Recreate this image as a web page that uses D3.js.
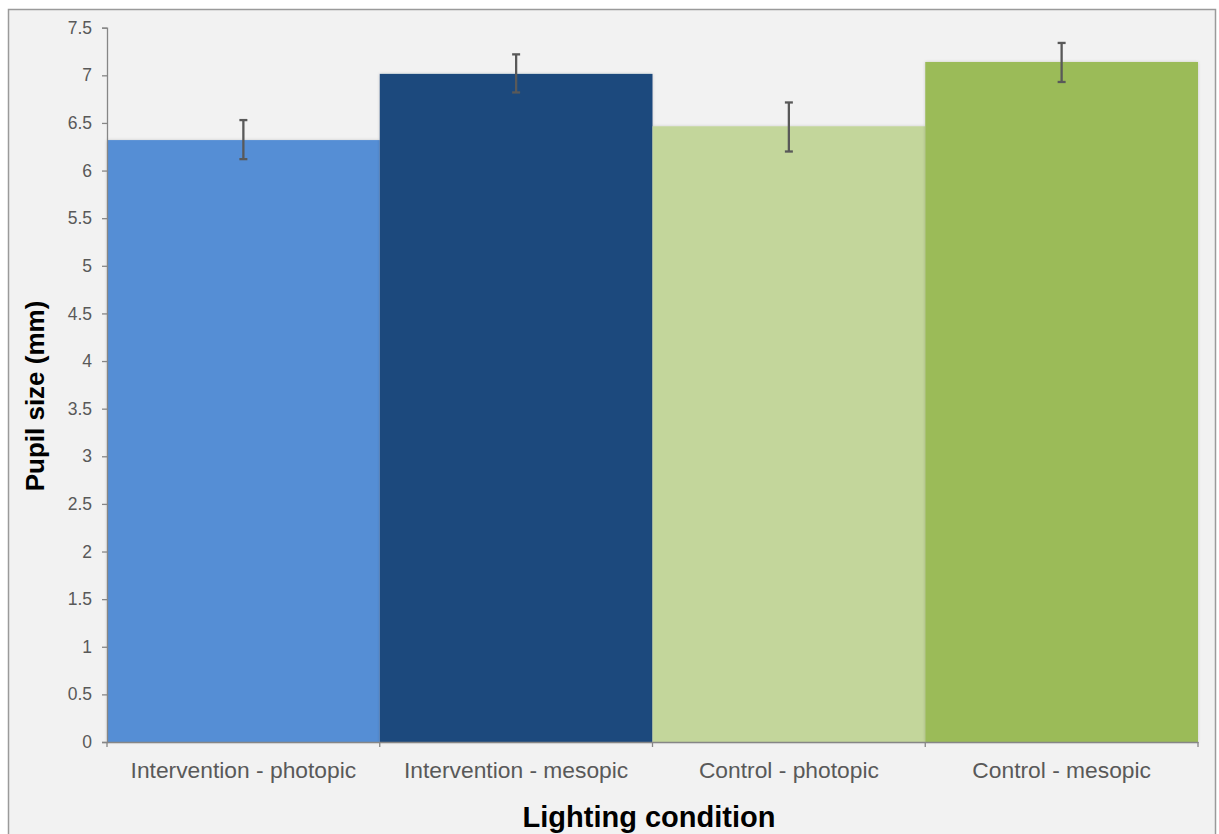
<!DOCTYPE html>
<html>
<head>
<meta charset="utf-8">
<script src="https://cdn.jsdelivr.net/npm/d3@7"></script>
<style>
  html, body { margin: 0; padding: 0; background: #ffffff; }
  svg { display: block; }
</style>
</head>
<body>
<svg id="chart" width="1219" height="834"></svg>
<script>
const categories = ["Intervention - photopic", "Intervention - mesopic", "Control - photopic", "Control - mesopic"];
const values = [6.32, 7.015, 6.465, 7.14];
const errUpper = [6.53, 7.22, 6.715, 7.34];
const errLower = [6.12, 6.82, 6.20, 6.93];
const colors = ["#558ed5", "#1f497d", "#c3d69b", "#9bbb59"];
const yTicks = [0, 0.5, 1, 1.5, 2, 2.5, 3, 3.5, 4, 4.5, 5, 5.5, 6, 6.5, 7, 7.5];
const xTitle = "Lighting condition";
const yTitle = "Pupil size (mm)";

const svg = d3.select("#chart");
const W = 1219, H = 834;
const plot = { left: 107, right: 1198, top: 27.7, bottom: 742 };

// background + border
svg.append("rect").attr("x", 0).attr("y", 0).attr("width", W).attr("height", H).attr("fill", "#ffffff");
svg.append("rect").attr("x", 8.5).attr("y", 9.5).attr("width", 1207).attr("height", 840)
  .attr("fill", "#f2f2f2").attr("stroke", "#9a9a9a").attr("stroke-width", 1.5);

const defs = svg.append("defs");
const f = defs.append("filter").attr("id", "shadow").attr("x", "-5%").attr("y", "-5%").attr("width", "110%").attr("height", "110%");
f.append("feDropShadow").attr("dx", 0).attr("dy", 0).attr("stdDeviation", 1.5)
  .attr("flood-color", "#000").attr("flood-opacity", 0.18);

const x = d3.scaleBand().domain(categories).range([plot.left, plot.right]).padding(0);
const y = d3.scaleLinear().domain([0, 7.5]).range([plot.bottom, plot.top]);

const data = categories.map((c, i) => ({ c, v: values[i], hi: errUpper[i], lo: errLower[i], col: colors[i] }));

// bars
svg.append("g").selectAll("rect").data(data).join("rect")
  .attr("x", d => x(d.c))
  .attr("y", d => y(d.v))
  .attr("width", x.bandwidth())
  .attr("height", d => y(0) - y(d.v))
  .attr("fill", d => d.col)
  .attr("filter", "url(#shadow)");

// error bars
const eg = svg.append("g").attr("stroke", "#595959").attr("stroke-width", 2.3).attr("fill", "none");
data.forEach(d => {
  const cx = x(d.c) + x.bandwidth() / 2;
  eg.append("line").attr("x1", cx).attr("x2", cx).attr("y1", y(d.hi)).attr("y2", y(d.lo));
  eg.append("line").attr("x1", cx - 4).attr("x2", cx + 4).attr("y1", y(d.hi)).attr("y2", y(d.hi));
  eg.append("line").attr("x1", cx - 4).attr("x2", cx + 4).attr("y1", y(d.lo)).attr("y2", y(d.lo));
});

// y axis
const yAxis = d3.axisLeft(y).tickValues(yTicks).tickSize(5).tickPadding(10)
  .tickFormat(d => String(d));
const gy = svg.append("g").attr("transform", `translate(${plot.left},0)`).call(yAxis);
gy.select(".domain").attr("stroke", "#868686").attr("stroke-width", 1.3);
gy.selectAll(".tick line").attr("stroke", "#868686").attr("stroke-width", 1.3);
gy.selectAll(".tick text").attr("fill", "#595959")
  .style("font-family", "'Liberation Sans', Arial, sans-serif").style("font-size", "17.5px");

// x axis
const xAxis = d3.axisBottom(x).tickSize(0).tickPadding(20);
const gx = svg.append("g").attr("transform", `translate(0,${plot.bottom})`).call(xAxis);
gx.select(".domain").attr("stroke", "#868686").attr("stroke-width", 1.5);
gx.selectAll(".tick text").attr("fill", "#595959")
  .style("font-family", "'Liberation Sans', Arial, sans-serif").style("font-size", "22.8px");
// category separator ticks
const boundaries = categories.map(c => x(c)).concat([plot.right]);
gx.append("g").selectAll("line").data(boundaries).join("line")
  .attr("x1", d => d).attr("x2", d => d).attr("y1", 0).attr("y2", 5)
  .attr("stroke", "#868686").attr("stroke-width", 1.3);

// titles
svg.append("text").attr("x", 649).attr("y", 826.5).attr("text-anchor", "middle")
  .style("font-family", "'Liberation Sans', Arial, sans-serif").style("font-weight", "bold")
  .style("font-size", "29px").attr("fill", "#000").text(xTitle);
svg.append("text").attr("transform", "translate(44,396) rotate(-90)").attr("text-anchor", "middle")
  .style("font-family", "'Liberation Sans', Arial, sans-serif").style("font-weight", "bold")
  .style("font-size", "26px").attr("fill", "#000").text(yTitle);
</script>
</body>
</html>
